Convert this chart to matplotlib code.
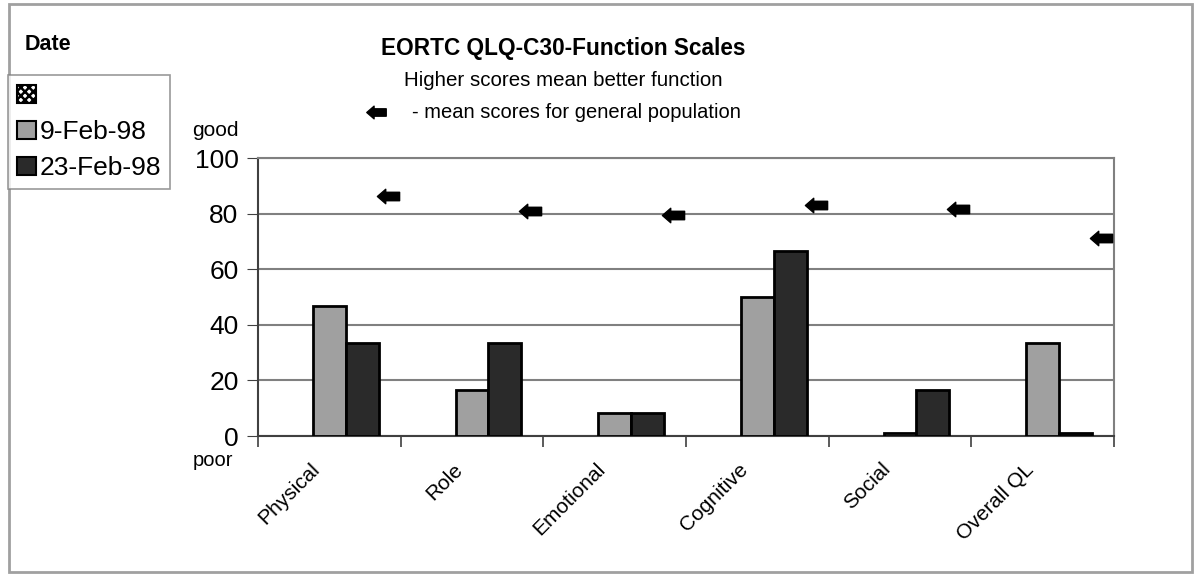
import numpy as np
import matplotlib.pyplot as plt
import matplotlib.transforms as mtransforms
from matplotlib.path import Path
from matplotlib.patches import Patch, Rectangle
from matplotlib.lines import Line2D

plt.rcParams['font.family'] = ['Liberation Sans', 'DejaVu Sans']
plt.rcParams['hatch.linewidth'] = 1.8

# data
scales = ['Physical', 'Role', 'Emotional', 'Cognitive', 'Social', 'Overall QL']
blank = [0, 0, 0, 0, 0, 0]
feb9 = [46.7, 16.7, 8.3, 50.0, 1.0, 33.3]
feb23 = [33.3, 33.3, 8.3, 66.7, 16.7, 1.0]
pop_mean = [86.3, 81.0, 79.5, 83.0, 81.7, 71.2]
series_labels = ['', '9-Feb-98', '23-Feb-98']

# left-pointing arrow marker
arrow = Path([(-1, 0), (-0.25, 0.65), (-0.25, 0.38), (1, 0.38), (1, -0.38),
              (-0.25, -0.38), (-0.25, -0.65), (-1, 0)],
             [Path.MOVETO] + [Path.LINETO] * 6 + [Path.CLOSEPOLY])

W, H = 1195, 574
fig = plt.figure(figsize=(W / 100, H / 100), dpi=100)
ax = fig.add_axes([258 / W, 1 - 436 / H, (1114 - 258) / W, (436 - 158) / H])

x = np.arange(len(scales))
bw = 0.231
ax.bar(x - bw, blank, bw, color='white', edgecolor='black', hatch='xxxx', lw=0, zorder=3)
ax.bar(x, feb9, bw, color='#a0a0a0', edgecolor='black', lw=2, zorder=3)
ax.bar(x + bw, feb23, bw, color='#2a2a2a', edgecolor='black', lw=2, zorder=3)
ax.plot(x + 0.41, pop_mean, ls='none', marker=arrow, ms=16, color='black', zorder=4)

ax.set_xlim(-0.5, len(scales) - 0.5)
ax.set_ylim(0, 100)
ax.set_yticks(np.arange(0, 101, 20))
ax.yaxis.grid(True, color='#808080', lw=1.5, zorder=0)
ax.tick_params(axis='y', labelsize=19, length=8, pad=6, color='#404040')
ax.set_xticks(x)
ax.set_xticklabels(scales, rotation=45, ha='right', rotation_mode='anchor', fontsize=15)
ax.tick_params(axis='x', which='major', length=0, pad=17)
shift = mtransforms.ScaledTranslation(-19 / 100, 0, fig.dpi_scale_trans)
for lab in ax.get_xticklabels():
    lab.set_transform(lab.get_transform() + shift)
ax.set_xticks(np.arange(-0.5, len(scales)), minor=True)
ax.tick_params(axis='x', which='minor', length=8, width=1.2, color='#404040')
for s in ['top', 'right']:
    ax.spines[s].set_color('#808080')
    ax.spines[s].set_linewidth(1.5)
for s in ['left', 'bottom']:
    ax.spines[s].set_color('#404040')
    ax.spines[s].set_linewidth(1.5)

fig.text(215 / W, 1 - 131 / H, 'good', fontsize=15, ha='center', va='center')
fig.text(213 / W, 1 - 460 / H, 'poor', fontsize=14.5, ha='center', va='center')

# titles
fig.text(563 / W, 1 - 48 / H, 'EORTC QLQ-C30-Function Scales', fontsize=16.3,
         fontweight='bold', ha='center', va='center')
fig.text(563 / W, 1 - 80 / H, 'Higher scores mean better function', fontsize=14.8,
         ha='center', va='center')
fig.text(576 / W, 1 - 112 / H, '- mean scores for general population', fontsize=14.5,
         ha='center', va='center')
fig.add_artist(Line2D([376 / W], [1 - 112 / H], transform=fig.transFigure,
                      marker=arrow, ms=14, color='black', ls='none'))

# legend
handles = [Patch(facecolor='white', edgecolor='black', hatch='xxxx', lw=1.5),
           Patch(facecolor='#a0a0a0', edgecolor='black', lw=1.5),
           Patch(facecolor='#2a2a2a', edgecolor='black', lw=1.5)]
fig.text(25 / W, 1 - 45 / H, 'Date', fontsize=15.5, fontweight='bold', va='center')
leg = fig.legend(handles, series_labels, loc='upper left',
                 bbox_to_anchor=(8 / W, 1 - 75 / H), fontsize=19, frameon=True,
                 fancybox=False, edgecolor='#808080', handlelength=0.7,
                 handleheight=0.7, handletextpad=0.15, borderpad=0.35,
                 labelspacing=0.45, borderaxespad=0)
leg.get_frame().set_linewidth(1.2)

# outer frame
fig.add_artist(Rectangle((9 / W, 2 / H), (1192 - 9) / W, (570 - 2) / H,
                         transform=fig.transFigure, fill=False,
                         edgecolor='#a0a0a0', lw=2))

fig.savefig('out.png', dpi=100)
